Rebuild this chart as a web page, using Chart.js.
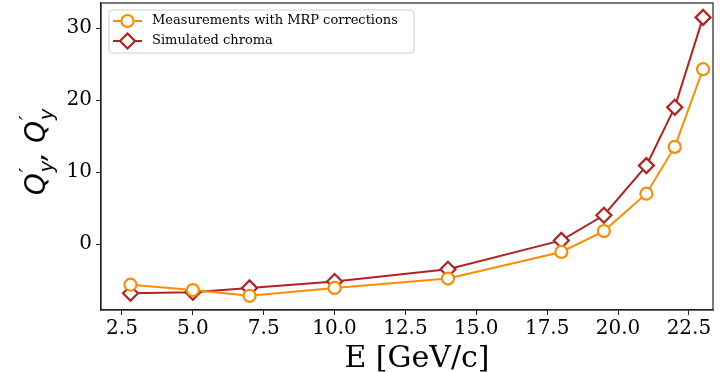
<!DOCTYPE html>
<html>
<head>
<meta charset="utf-8">
<script src="https://cdn.jsdelivr.net/npm/chart.js@4"></script>
<style>
  html, body { margin: 0; padding: 0; background: #fff; }
  canvas { display: block; }
</style>
</head>
<body>
<canvas id="chromaChart" width="720" height="372"></canvas>
<script>
// data
var energy = [2.8, 5.0, 7.0, 10.0, 14.0, 18.0, 19.5, 21.0, 22.0, 23.0];
var measured = [-5.65, -6.4, -7.2, -6.1, -4.8, -1.1, 1.8, 7.0, 13.5, 24.3];
var simulated = [-6.85, -6.7, -6.1, -5.2, -3.5, 0.5, 4.0, 10.9, 19.0, 31.5];
var xTicks = [2.5, 5.0, 7.5, 10.0, 12.5, 15.0, 17.5, 20.0, 22.5];
var yTicks = [0, 10, 20, 30];
var seriesLabels = ['Measurements with MRP corrections', 'Simulated chroma'];
var xTitle = 'E [GeV/c]';

var ORANGE = '#ff8c00';
var RED = '#b22222';
var SERIF = '"DejaVu Serif", serif';

function toPoints(xs, ys) {
    return xs.map(function(x, i) { return { x: x, y: ys[i] }; });
}

// frame, legend box, axis titles (the y one is math-like)
var decorations = {
    id: 'decorations',
    afterDraw: function(chart) {
        var ctx = chart.ctx;
        var a = chart.chartArea;
        ctx.save();
        ctx.strokeStyle = '#222';
        ctx.lineWidth = 1.2;
        ctx.strokeRect(a.left, a.top, a.right - a.left, a.bottom - a.top);

        // legend
        var bx = 109, by = 10, bw = 305, bh = 43;
        ctx.beginPath();
        ctx.roundRect(bx, by, bw, bh, 3);
        ctx.fillStyle = 'rgba(255,255,255,0.8)';
        ctx.fill();
        ctx.strokeStyle = '#d0d0d0';
        ctx.lineWidth = 1;
        ctx.stroke();

        var rows = [21, 41];
        var colors = [ORANGE, RED];
        for (var i = 0; i < 2; i++) {
            var y = rows[i];
            ctx.strokeStyle = colors[i];
            ctx.lineWidth = 2;
            ctx.beginPath();
            ctx.moveTo(113, y);
            ctx.lineTo(142, y);
            ctx.stroke();
            ctx.fillStyle = '#fff';
            ctx.lineWidth = 2.2;
            ctx.beginPath();
            if (i === 0) {
                ctx.arc(127.5, y, 6, 0, Math.PI * 2);
            } else {
                ctx.moveTo(127.5, y - 7.5);
                ctx.lineTo(135, y);
                ctx.lineTo(127.5, y + 7.5);
                ctx.lineTo(120, y);
                ctx.closePath();
            }
            ctx.fill();
            ctx.stroke();
            ctx.fillStyle = '#000';
            ctx.font = '13px ' + SERIF;
            ctx.textBaseline = 'middle';
            ctx.textAlign = 'left';
            ctx.fillText(seriesLabels[i], 152, y);
        }

        // x title
        ctx.font = '30px ' + SERIF;
        ctx.textAlign = 'center';
        ctx.textBaseline = 'alphabetic';
        ctx.fillStyle = '#000';
        ctx.fillText(xTitle, 417, 367);

        // y label: Q'_y, Q'_y
        var big = 'italic 28px "DejaVu Sans", sans-serif';
        var small = 'italic 19px "DejaVu Sans", sans-serif';
        ctx.textAlign = 'left';
        ctx.font = big;
        var qw = ctx.measureText('Q').width;
        var cw = ctx.measureText(', ').width;
        ctx.font = small;
        var yw = ctx.measureText('y').width;
        var total = 2 * (qw + yw + 1) + cw;
        ctx.translate(45, 152);
        ctx.rotate(-Math.PI / 2);
        var x = -total / 2;
        for (var k = 0; k < 2; k++) {
            ctx.font = big;
            ctx.fillText('Q', x, 0);
            x += qw + 1;
            ctx.font = small;
            ctx.fillText('\u2032', x, -12);
            ctx.fillText('y', x, 8);
            x += yw;
            if (k === 0) {
                ctx.font = big;
                ctx.fillText(',', x, 0);
                x += cw;
            }
        }
        ctx.restore();
    }
};

var chromaCtx = document.getElementById('chromaChart').getContext('2d');

var chromaChart = new Chart(chromaCtx, {
    type: 'line',
    data: {
        datasets: [
            {
                label: seriesLabels[0],
                data: toPoints(energy, measured),
                borderColor: ORANGE,
                backgroundColor: '#fff',
                borderWidth: 2,
                pointStyle: 'circle',
                pointRadius: 6,
                pointBorderWidth: 2.2,
                pointBackgroundColor: '#fff',
                pointBorderColor: ORANGE,
                tension: 0
            },
            {
                label: seriesLabels[1],
                data: toPoints(energy, simulated),
                borderColor: RED,
                backgroundColor: '#fff',
                borderWidth: 2,
                pointStyle: 'rectRot',
                pointRadius: 7.5,
                pointBorderWidth: 2.2,
                pointBackgroundColor: '#fff',
                pointBorderColor: RED,
                tension: 0
            }
        ]
    },
    options: {
        responsive: false,
        animation: false,
        layout: {
            autoPadding: false,
            padding: { left: 0, top: 3, right: 7, bottom: 0 }
        },
        scales: {
            x: {
                type: 'linear',
                min: 1.76,
                max: 23.35,
                afterBuildTicks: function(scale) {
                    scale.ticks = xTicks.map(function(v) { return { value: v }; });
                },
                afterFit: function(scale) {
                    scale.height = 62;
                    scale.paddingLeft = 0;
                    scale.paddingRight = 0;
                },
                grid: {
                    display: true,
                    drawOnChartArea: false,
                    drawTicks: true,
                    tickLength: 5,
                    color: '#222'
                },
                border: { display: true, color: '#222', width: 1.2 },
                ticks: {
                    color: '#000',
                    padding: 2,
                    maxRotation: 0,
                    autoSkip: false,
                    font: { size: 20, family: SERIF },
                    callback: function(v) { return Number(v).toFixed(1); }
                }
            },
            y: {
                type: 'linear',
                min: -9.17,
                max: 33.5,
                afterBuildTicks: function(scale) {
                    scale.ticks = yTicks.map(function(v) { return { value: v }; });
                },
                afterFit: function(scale) {
                    scale.width = 101;
                    scale.paddingTop = 0;
                    scale.paddingBottom = 0;
                },
                grid: {
                    display: true,
                    drawOnChartArea: false,
                    drawTicks: true,
                    tickLength: 5,
                    color: '#222'
                },
                border: { display: true, color: '#222', width: 1.2 },
                ticks: {
                    color: '#000',
                    padding: 4,
                    font: { size: 20, family: SERIF },
                    callback: function(v) { return String(v); }
                }
            }
        },
        plugins: {
            legend: { display: false },
            tooltip: { enabled: false }
        }
    },
    plugins: [decorations]
});
</script>
</body>
</html>
